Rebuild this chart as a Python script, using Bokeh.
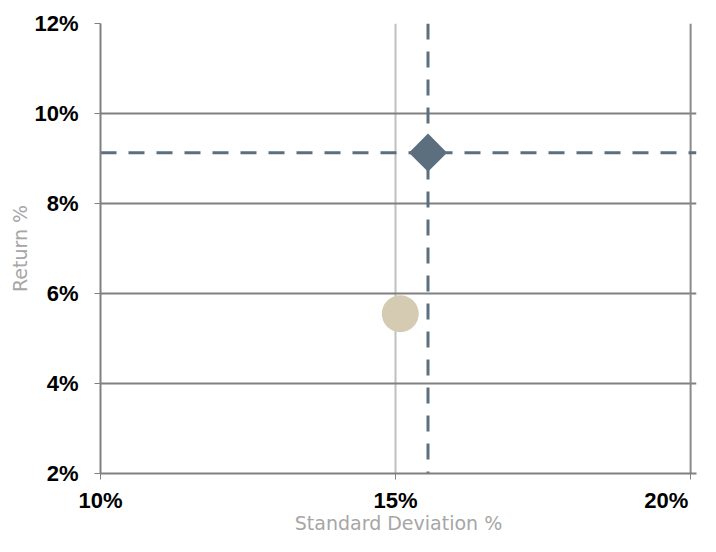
from bokeh.plotting import figure
from bokeh.models import FixedTicker, PrintfTickFormatter, Range1d
from bokeh.embed import file_html
from bokeh.resources import INLINE

# data
portfolio_sd = [15.55]
portfolio_ret = [9.13]
benchmark_sd = [15.08]
benchmark_ret = [5.55]
x_ticks = [10, 15, 20]
x_tick_labels = ["10%", "15%", "20%"]
y_ticks = [2, 4, 6, 8, 10, 12]
x_title = "Standard Deviation %"
y_title = "Return %"

p = figure(width=700, height=536, output_backend="svg", toolbar_location=None,
           x_range=Range1d(10, 20.1), y_range=Range1d(2, 12),
           min_border_left=100, min_border_right=4, min_border_top=23,
           min_border_bottom=63)
p.outline_line_color = None
p.background_fill_color = "white"

# axes
for ax in (p.xaxis[0], p.yaxis[0]):
    ax.axis_line_color = "#808080"
    ax.axis_line_width = 2
    ax.major_tick_line_color = "#808080"
    ax.major_tick_line_width = 1
    ax.major_tick_out = 6
    ax.major_tick_in = 0
    ax.minor_tick_line_color = None
    ax.formatter = PrintfTickFormatter(format="%d%%")
    ax.major_label_text_font = "Liberation Sans"
    ax.major_label_text_font_style = "bold"
    ax.major_label_text_font_size = "22px"
    ax.major_label_text_color = "#000000"
    ax.axis_label_text_font = "DejaVu Sans"
    ax.axis_label_text_font_style = "normal"
    ax.axis_label_text_font_size = "19px"
    ax.axis_label_text_color = "#a6a6a6"

p.xaxis.ticker = FixedTicker(ticks=x_ticks)
p.yaxis.ticker = FixedTicker(ticks=y_ticks)
# keep the last label inside the canvas: pad it with a figure space on the right
p.xaxis.major_label_overrides = {x_ticks[-1]: x_tick_labels[-1] + "\u2007"}
p.xaxis.axis_label = x_title
p.yaxis.axis_label = y_title
p.xaxis.major_label_standoff = 8
p.xaxis.axis_label_standoff = -4
p.yaxis.major_label_standoff = 16
p.yaxis.axis_label_standoff = 0

# grids
p.ygrid.grid_line_color = "#808080"
p.ygrid.grid_line_width = 2
p.ygrid.ticker = FixedTicker(ticks=y_ticks)
p.xgrid.grid_line_color = "#c0c0c0"
p.xgrid.grid_line_width = 2
p.xgrid.ticker = FixedTicker(ticks=[15])

# right border line at 20%
p.segment(x0=[x_ticks[-1]], y0=[y_ticks[0]], x1=[x_ticks[-1]], y1=[y_ticks[-1]],
          line_color="#8a8a8a", line_width=2)

dash_color = "#5b6f7f"
# dashed crosshair through the portfolio point
p.segment(x0=[x_ticks[0]], y0=portfolio_ret, x1=[20.1], y1=portfolio_ret,
          line_color=dash_color, line_width=3, line_dash="16 12")
p.segment(x0=portfolio_sd, y0=[y_ticks[-1]], x1=portfolio_sd, y1=[y_ticks[0]],
          line_color=dash_color, line_width=3, line_dash="16 12")

# points
p.scatter(benchmark_sd, benchmark_ret, marker="circle", size=37,
          fill_color="#d5cbb2", line_color=None)
p.scatter(portfolio_sd, portfolio_ret, marker="square", size=27, angle=0.785398,
          fill_color=dash_color, line_color=None)

open("out.html", "w").write(file_html(p, INLINE))
